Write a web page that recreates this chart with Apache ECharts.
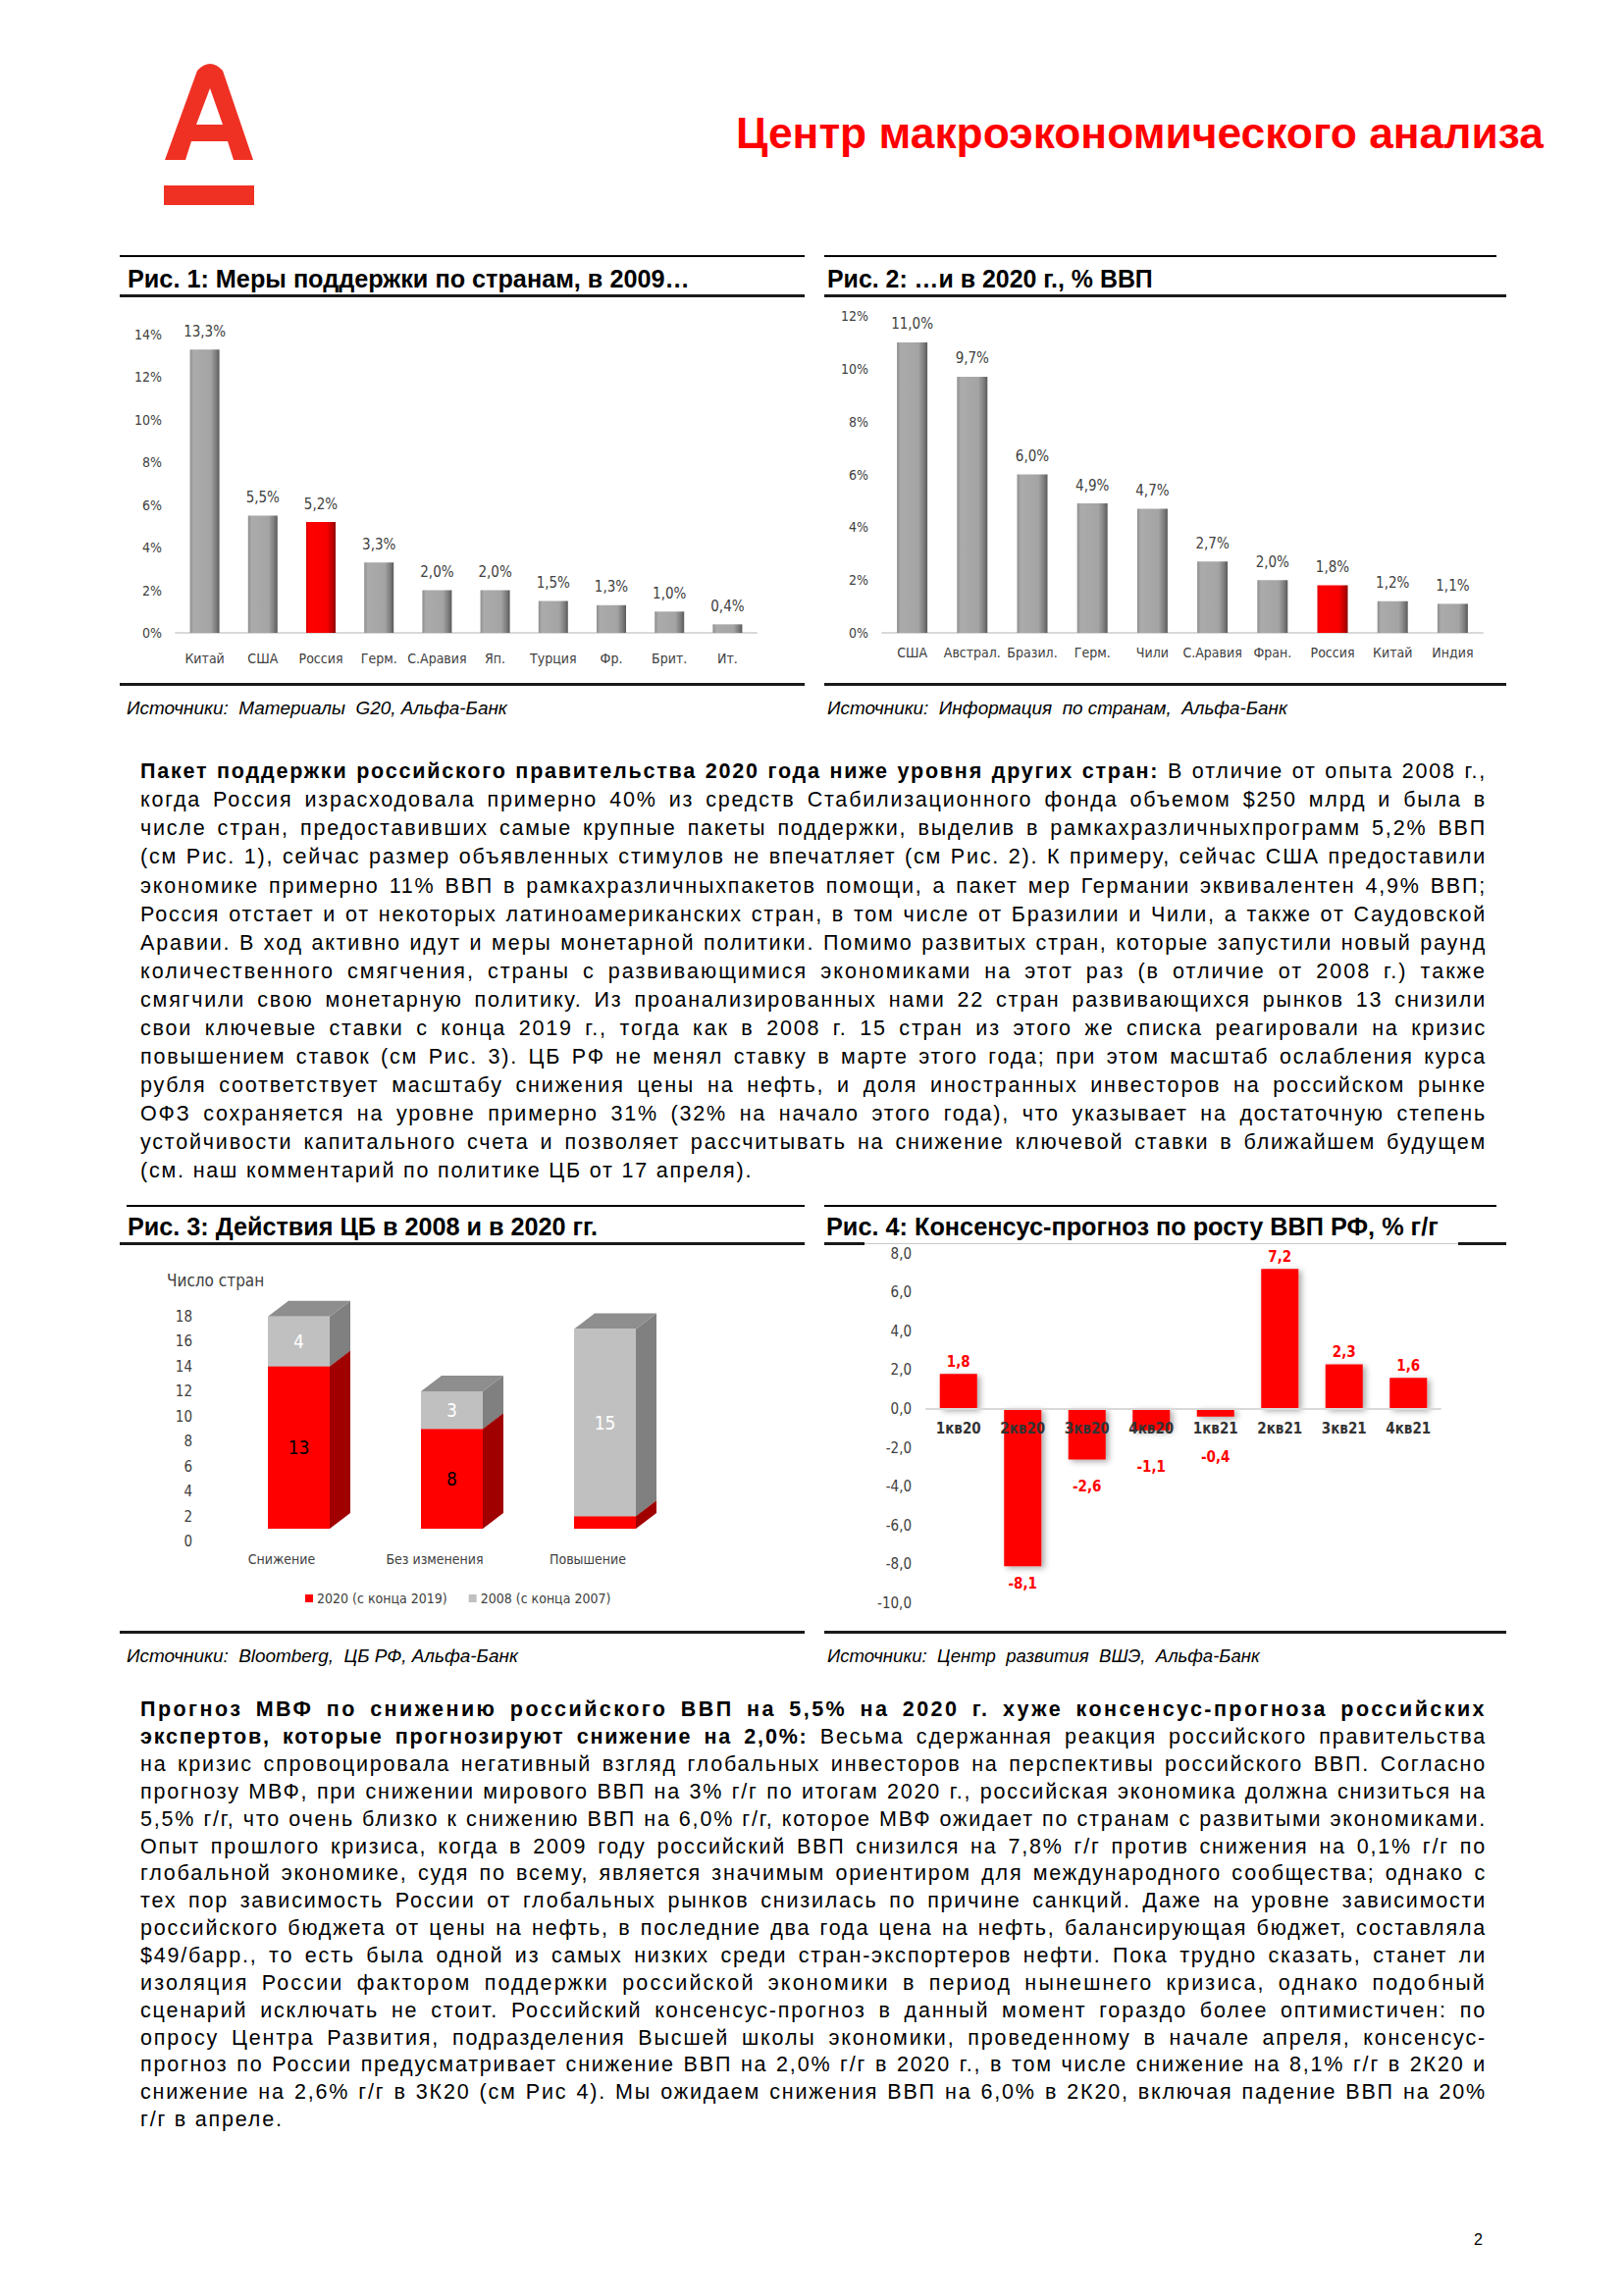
<!DOCTYPE html>
<html lang="ru">
<head>
<meta charset="utf-8">
<script src="https://cdn.jsdelivr.net/npm/echarts@6/dist/echarts.min.js"></script>
<style>
html,body{margin:0;padding:0;background:#fff;}
body{width:1655px;height:2340px;position:relative;overflow:hidden;font-family:"Liberation Sans",Arial,sans-serif;}
.ln{position:absolute;}
.chart{position:absolute;}
.t{position:absolute;white-space:pre;line-height:1;}
</style>
</head>
<body>
<svg style="position:absolute;left:0;top:0" width="300" height="230">
  <path fill="#EF3124" fill-rule="evenodd" d="M201,72 Q214,58 227,72 L258,163 L238,163 L232,144 L195,144 L189,163 L168,163 Z M214,90 L227,127 L200,127 Z"/>
  <rect x="167" y="189" width="92" height="20" fill="#EF3124"/>
</svg>
<div id="c1" class="chart" style="left:122px;top:305px;width:700px;height:385px"></div>
<div id="c2" class="chart" style="left:843px;top:305px;width:692px;height:385px"></div>
<div id="c3" class="chart" style="left:122px;top:1270px;width:700px;height:390px"></div>
<div id="c4" class="chart" style="left:843px;top:1270px;width:692px;height:390px"></div>
<script>
// ---------------- DATA ----------------
const fig1Categories = ['Китай','США','Россия','Герм.','С.Аравия','Яп.','Турция','Фр.','Брит.','Ит.'];
const fig1Values = [13.3, 5.5, 5.2, 3.3, 2.0, 2.0, 1.5, 1.3, 1.0, 0.4];
const fig1Ticks = [0, 2, 4, 6, 8, 10, 12, 14];

const fig2Categories = ['США','Австрал.','Бразил.','Герм.','Чили','С.Аравия','Фран.','Россия','Китай','Индия'];
const fig2Values = [11.0, 9.7, 6.0, 4.9, 4.7, 2.7, 2.0, 1.8, 1.2, 1.1];
const fig2Ticks = [0, 2, 4, 6, 8, 10, 12];

const highlightCategory = 'Россия';

const fig3Categories = ['Снижение','Без изменения','Повышение'];
const fig3Values2020 = [13, 8, 1];
const fig3Values2008 = [4, 3, 15];
const fig3SeriesNames = ['2020 (с конца 2019)', '2008 (с конца 2007)'];
const fig3Ticks = [0, 2, 4, 6, 8, 10, 12, 14, 16, 18];

const fig4Categories = ['1кв20','2кв20','3кв20','4кв20','1кв21','2кв21','3кв21','4кв21'];
const fig4Values = [1.8, -8.1, -2.6, -1.1, -0.4, 7.2, 2.3, 1.6];
const fig4Ticks = [-10, -8, -6, -4, -2, 0, 2, 4, 6, 8];

// ---------------- TEXT ----------------
const headerTitle = 'Центр макроэкономического анализа';
const figTitles = [
  'Рис. 1: Меры поддержки по странам, в 2009…',
  'Рис. 2: …и в 2020 г., % ВВП',
  'Рис. 3: Действия ЦБ в 2008 и в 2020 гг.',
  'Рис. 4: Консенсус-прогноз по росту ВВП РФ, % г/г'
];
const figSources = [
  'Источники:  Материалы  G20, Альфа-Банк',
  'Источники:  Информация  по странам,  Альфа-Банк',
  'Источники:  Bloomberg,  ЦБ РФ, Альфа-Банк',
  'Источники:  Центр  развития  ВШЭ,  Альфа-Банк'
];
const para1 = [
  '<b>Пакет поддержки российского правительства 2020 года ниже уровня других стран:</b> В отличие от опыта 2008 г.,',
  'когда Россия израсходовала примерно 40% из средств Стабилизационного фонда объемом $250 млрд и была в',
  'числе стран, предоставивших самые крупные пакеты поддержки, выделив в рамкахразличныхпрограмм 5,2% ВВП',
  '(см Рис. 1), сейчас размер объявленных стимулов не впечатляет (см Рис. 2). К примеру, сейчас США предоставили',
  'экономике примерно 11% ВВП в рамкахразличныхпакетов помощи, а пакет мер Германии эквивалентен 4,9% ВВП;',
  'Россия отстает и от некоторых латиноамериканских стран, в том числе от Бразилии и Чили, а также от Саудовской',
  'Аравии. В ход активно идут и меры монетарной политики. Помимо развитых стран, которые запустили новый раунд',
  'количественного смягчения, страны с развивающимися экономиками на этот раз (в отличие от 2008 г.) также',
  'смягчили свою монетарную политику. Из проанализированных нами 22 стран развивающихся рынков 13 снизили',
  'свои ключевые ставки с конца 2019 г., тогда как в 2008 г. 15 стран из этого же списка реагировали на кризис',
  'повышением ставок (см Рис. 3). ЦБ РФ не менял ставку в марте этого года; при этом масштаб ослабления курса',
  'рубля соответствует масштабу снижения цены на нефть, и доля иностранных инвесторов на российском рынке',
  'ОФЗ сохраняется на уровне примерно 31% (32% на начало этого года), что указывает на достаточную степень',
  'устойчивости капитального счета и позволяет рассчитывать на снижение ключевой ставки в ближайшем будущем',
  '(см. наш комментарий по политике ЦБ от 17 апреля).'
];
const para2 = [
  '<b>Прогноз МВФ по снижению российского ВВП на 5,5% на 2020 г. хуже консенсус-прогноза российских</b>',
  '<b>экспертов, которые прогнозируют снижение на 2,0%:</b> Весьма сдержанная реакция российского правительства',
  'на кризис спровоцировала негативный взгляд глобальных инвесторов на перспективы российского ВВП. Согласно',
  'прогнозу МВФ, при снижении мирового ВВП на 3% г/г по итогам 2020 г., российская экономика должна снизиться на',
  '5,5% г/г, что очень близко к снижению ВВП на 6,0% г/г, которое МВФ ожидает по странам с развитыми экономиками.',
  'Опыт прошлого кризиса, когда в 2009 году российский ВВП снизился на 7,8% г/г против снижения на 0,1% г/г по',
  'глобальной экономике, судя по всему, является значимым ориентиром для международного сообщества; однако с',
  'тех пор зависимость России от глобальных рынков снизилась по причине санкций. Даже на уровне зависимости',
  'российского бюджета от цены на нефть, в последние два года цена на нефть, балансирующая бюджет, составляла',
  '$49/барр., то есть была одной из самых низких среди стран-экспортеров нефти. Пока трудно сказать, станет ли',
  'изоляция России фактором поддержки российской экономики в период нынешнего кризиса, однако подобный',
  'сценарий исключать не стоит. Российский консенсус-прогноз в данный момент гораздо более оптимистичен: по',
  'опросу Центра Развития, подразделения Высшей школы экономики, проведенному в начале апреля, консенсус-',
  'прогноз по России предусматривает снижение ВВП на 2,0% г/г в 2020 г., в том числе снижение на 8,1% г/г в 2К20 и',
  'снижение на 2,6% г/г в 3К20 (см Рис 4). Мы ожидаем снижения ВВП на 6,0% в 2К20, включая падение ВВП на 20%',
  'г/г в апреле.'
];

// ---------------- LAYOUT HELPERS ----------------
const BODY = '"Liberation Sans", Arial, sans-serif';
const CF = '"Liberation Sans Narrow", "DejaVu Sans Condensed", "Roboto Condensed", "Liberation Sans", sans-serif';

function hline(x1, x2, y, h, color) {
  const d = document.createElement('div');
  d.className = 'ln';
  d.style.cssText = `left:${x1}px;top:${y}px;width:${x2 - x1}px;height:${h}px;background:${color};`;
  document.body.appendChild(d);
}
function txt(content, o) {
  const d = document.createElement('div');
  d.className = 't';
  d.innerHTML = content;
  let size = o.size;
  d.style.fontFamily = o.family || BODY;
  d.style.fontSize = size + 'px';
  d.style.fontWeight = o.weight || 'normal';
  d.style.fontStyle = o.style || 'normal';
  d.style.color = o.color || '#000';
  if (o.ls) d.style.letterSpacing = o.ls + 'px';
  d.style.left = '0px'; d.style.top = '0px';
  document.body.appendChild(d);
  if (o.width) {
    const w = d.getBoundingClientRect().width;
    size = size * o.width / w;
    d.style.fontSize = size + 'px';
  }
  const w2 = d.getBoundingClientRect().width;
  d.style.left = (o.right != null ? o.right - w2 : o.x) + 'px';
  d.style.top = (o.base - 0.8465 * size) + 'px';
  return d;
}
function para(lines, x0, W, base0, step, size, baseLs) {
  lines.forEach((html, i) => {
    const d = txt(html, {x: x0, base: base0 + i * step, size: size, ls: baseLs});
    if (i === lines.length - 1) return;
    const natural = d.getBoundingClientRect().width;
    const text = d.textContent;
    const spaces = (text.match(/ /g) || []).length;
    const extra = W - natural;
    let ws = extra / Math.max(spaces, 1);
    let ls = baseLs;
    if (ws < -3) {
      ws = -3;
      ls = baseLs + (extra - ws * spaces) / text.length;
    } else if (ws > 5) {
      ws = 5;
      ls = baseLs + (extra - ws * spaces) / text.length;
    }
    d.style.wordSpacing = ws + 'px';
    d.style.letterSpacing = ls + 'px';
  });
}

// header
txt(headerTitle, {x: 750, width: 823, base: 152, size: 42, weight: 'bold', color: '#FF0000'});

// fig frames
hline(122, 820, 260, 2, '#000'); hline(122, 820, 300, 3, '#1a1a1a'); hline(122, 820, 696, 3, '#1a1a1a');
hline(840, 1525, 260, 2, '#000'); hline(840, 1535, 300, 3, '#1a1a1a'); hline(840, 1535, 696, 3, '#1a1a1a');
hline(129, 820, 1228, 2, '#000'); hline(122, 820, 1266, 3, '#1a1a1a'); hline(122, 820, 1662, 3, '#1a1a1a');
hline(840, 1525, 1228, 2, '#000');
hline(840, 881, 1266, 3, '#1a1a1a'); hline(881, 1486, 1267, 1, '#c8c8c8'); hline(1486, 1535, 1266, 3, '#1a1a1a');
hline(840, 1535, 1662, 3, '#1a1a1a');

// titles and sources
txt(figTitles[0], {x: 130, width: 573, base: 293, size: 22, weight: 'bold'});
txt(figTitles[1], {x: 843, width: 332, base: 293, size: 22, weight: 'bold'});
txt(figTitles[2], {x: 130, width: 479, base: 1259, size: 22, weight: 'bold'});
txt(figTitles[3], {x: 842, width: 624, base: 1259, size: 22, weight: 'bold'});
txt(figSources[0], {x: 129, width: 388, base: 729, size: 17, style: 'italic'});
txt(figSources[1], {x: 843, width: 469, base: 729, size: 17, style: 'italic'});
txt(figSources[2], {x: 129, width: 399, base: 1695, size: 17, style: 'italic'});
txt(figSources[3], {x: 843, width: 441, base: 1695, size: 17, style: 'italic'});

// body text
para(para1, 143, 1372, 794.5, 29.05, 21.5, 1.8);
para(para2, 143, 1372, 1750.5, 27.85, 21.5, 1.8);

// page number
txt('2', {x: 1502, base: 2289, size: 16});

// ---------------- CHARTS ----------------
const fmtPct = v => v.toFixed(1).replace('.', ',') + '%';
const fmtDec = v => v.toFixed(1).replace('.', ',');

function grayGrad() {
  return new echarts.graphic.LinearGradient(0, 0, 1, 0, [
    {offset: 0, color: '#8e8e8e'}, {offset: 0.12, color: '#ababab'},
    {offset: 0.7, color: '#a4a4a4'}, {offset: 0.88, color: '#7d7d7d'}, {offset: 1, color: '#5a5a5a'}]);
}
function redGrad() {
  return new echarts.graphic.LinearGradient(0, 0, 1, 0, [
    {offset: 0, color: '#e00000'}, {offset: 0.12, color: '#ff0000'},
    {offset: 0.7, color: '#f80000'}, {offset: 0.88, color: '#c00000'}, {offset: 1, color: '#900000'}]);
}

function pctBarOption(cats, vals, ticks, grid, barWidth, catMargin) {
  return {
    animation: false,
    grid: grid,
    xAxis: {
      type: 'category', data: cats,
      axisLine: {show: true, lineStyle: {color: '#d9d9d9', width: 2}},
      axisTick: {show: false},
      axisLabel: {color: '#404040', fontSize: 14, fontFamily: CF, margin: catMargin, interval: 0}
    },
    yAxis: {
      type: 'value', min: ticks[0], max: ticks[ticks.length - 1], interval: ticks[1] - ticks[0],
      axisLine: {show: false}, axisTick: {show: false}, splitLine: {show: false},
      axisLabel: {color: '#404040', fontSize: 14, fontFamily: CF, margin: 14, formatter: v => v + '%'}
    },
    series: [{
      type: 'bar', barWidth: barWidth,
      data: vals.map((v, i) => ({value: v, itemStyle: {color: cats[i] === highlightCategory ? redGrad() : grayGrad()}})),
      label: {show: true, position: 'top', distance: 11, color: '#404040', fontSize: 15, fontFamily: CF,
        formatter: p => fmtPct(p.value)}
    }]
  };
}

const c1 = echarts.init(document.getElementById('c1'), null, {renderer: 'svg'});
c1.setOption(pctBarOption(fig1Categories, fig1Values, fig1Ticks, {left: 57, top: 36, width: 592, height: 304}, 30, 19));

const c2 = echarts.init(document.getElementById('c2'), null, {renderer: 'svg'});
c2.setOption(pctBarOption(fig2Categories, fig2Values, fig2Ticks, {left: 56, top: 17, width: 612, height: 323}, 31, 13));

// Fig 3: 3D stacked columns drawn through custom series
const F3 = {shiftX: 17.5, lift: 13, half: 31.5, dx: 21, dy: 16};
const fig3Styles = [
  {front: '#ff0000', side: '#a00000', top: '#c00000', label: '#000000'},
  {front: '#c0c0c0', side: '#808080', top: '#8e8e8e', label: '#ffffff'}
];
function render3D(styleIdx) {
  const st = fig3Styles[styleIdx];
  return function (params, api) {
    const ci = api.value(0), lo = api.value(1), hi = api.value(2);
    const pLo = api.coord([ci, lo]), pHi = api.coord([ci, hi]);
    const cx = pLo[0] + F3.shiftX;
    const x0 = cx - F3.half, x1 = cx + F3.half;
    const yb = pLo[1] - F3.lift, yt = pHi[1] - F3.lift;
    const children = [
      {type: 'polygon', shape: {points: [[x1, yb], [x1 + F3.dx, yb - F3.dy], [x1 + F3.dx, yt - F3.dy], [x1, yt]]}, style: {fill: st.side}},
      {type: 'polygon', shape: {points: [[x0, yt], [x1, yt], [x1 + F3.dx, yt - F3.dy], [x0 + F3.dx, yt - F3.dy]]}, style: {fill: st.top}},
      {type: 'rect', shape: {x: x0, y: yt, width: x1 - x0, height: yb - yt}, style: {fill: st.front}}
    ];
    if (hi - lo >= 2) {
      children.push({type: 'text', style: {text: String(hi - lo), x: cx, y: (yt + yb) / 2, align: 'center', verticalAlign: 'middle',
        fill: st.label, fontSize: 19, fontFamily: CF}});
    }
    return {type: 'group', children: children};
  };
}
const fig3Data2020 = fig3Values2020.map((v, i) => [i, 0, v]);
const fig3Data2008 = fig3Values2008.map((v, i) => [i, fig3Values2020[i], fig3Values2020[i] + v]);
const c3 = echarts.init(document.getElementById('c3'), null, {renderer: 'svg'});
c3.setOption({
  animation: false,
  grid: {left: 87, top: 72, width: 468, height: 229},
  legend: {
    data: fig3SeriesNames, left: 184, top: 347, icon: 'rect', itemWidth: 8, itemHeight: 8, itemGap: 22,
    textStyle: {color: '#404040', fontSize: 14, fontFamily: CF, padding: [0, 0, 0, -1]}
  },
  graphic: [{type: 'text', left: 48, top: 26, style: {text: 'Число стран', fill: '#404040', fontSize: 17, fontFamily: CF}}],
  xAxis: {
    type: 'category', data: fig3Categories,
    axisLine: {show: false}, axisTick: {show: false},
    axisLabel: {color: '#404040', fontSize: 14, fontFamily: CF, margin: 11, interval: 0}
  },
  yAxis: {
    type: 'value', min: fig3Ticks[0], max: fig3Ticks[fig3Ticks.length - 1], interval: fig3Ticks[1] - fig3Ticks[0],
    axisLine: {show: false}, axisTick: {show: false}, splitLine: {show: false},
    axisLabel: {color: '#404040', fontSize: 15, fontFamily: CF, margin: 13}
  },
  series: [
    {name: fig3SeriesNames[0], type: 'custom', renderItem: render3D(0), itemStyle: {color: '#ff0000'},
      encode: {x: 0, y: [1, 2]}, data: fig3Data2020},
    {name: fig3SeriesNames[1], type: 'custom', renderItem: render3D(1), itemStyle: {color: '#c0c0c0'},
      encode: {x: 0, y: [1, 2]}, data: fig3Data2008}
  ]
});

const c4 = echarts.init(document.getElementById('c4'), null, {renderer: 'svg'});
const fig4Grid = {left: 101, top: 6, width: 524, height: 358};
// negative labels are pushed clear of the category-label row near zero
const negLabelDistance = v => Math.max(10, 36 - 6 * Math.abs(v));
const fig4Option = {
  animation: false,
  grid: fig4Grid,
  xAxis: {
    type: 'category', data: fig4Categories, z: 10,
    axisLine: {show: true, onZero: true, lineStyle: {color: '#d9d9d9', width: 2}},
    axisTick: {show: false},
    axisLabel: {color: '#333333', fontSize: 15, fontWeight: 'bold', fontFamily: CF, margin: 13, interval: 0}
  },
  yAxis: {
    type: 'value', min: fig4Ticks[0], max: fig4Ticks[fig4Ticks.length - 1], interval: fig4Ticks[1] - fig4Ticks[0],
    axisLine: {show: false}, axisTick: {show: false}, splitLine: {show: false},
    axisLabel: {color: '#404040', fontSize: 15, fontFamily: CF, margin: 15, formatter: v => fmtDec(v)}
  },
  series: [{
    type: 'bar', barWidth: 38, z: 2,
    itemStyle: {color: '#ff0000', shadowColor: 'rgba(0,0,0,0.35)', shadowBlur: 6, shadowOffsetX: 3, shadowOffsetY: 2},
    data: fig4Values.map(v => ({
      value: v,
      label: {show: true, position: v >= 0 ? 'top' : 'bottom', distance: v >= 0 ? 5 : negLabelDistance(v),
        color: '#ff0000', fontWeight: 'bold', fontSize: 15, fontFamily: CF, formatter: p => fmtDec(p.value)}
    }))
  }]
};
c4.setOption(fig4Option);
// keep category labels next to the zero line (as in the reference)
(function () {
  const zeroY = c4.convertToPixel({yAxisIndex: 0}, 0);
  const bottomY = fig4Grid.top + fig4Grid.height;
  if (zeroY < bottomY - 1) {
    c4.setOption({xAxis: {axisLabel: {margin: 13 - (bottomY - zeroY)}}});
  }
})();
</script>
</body>
</html>
